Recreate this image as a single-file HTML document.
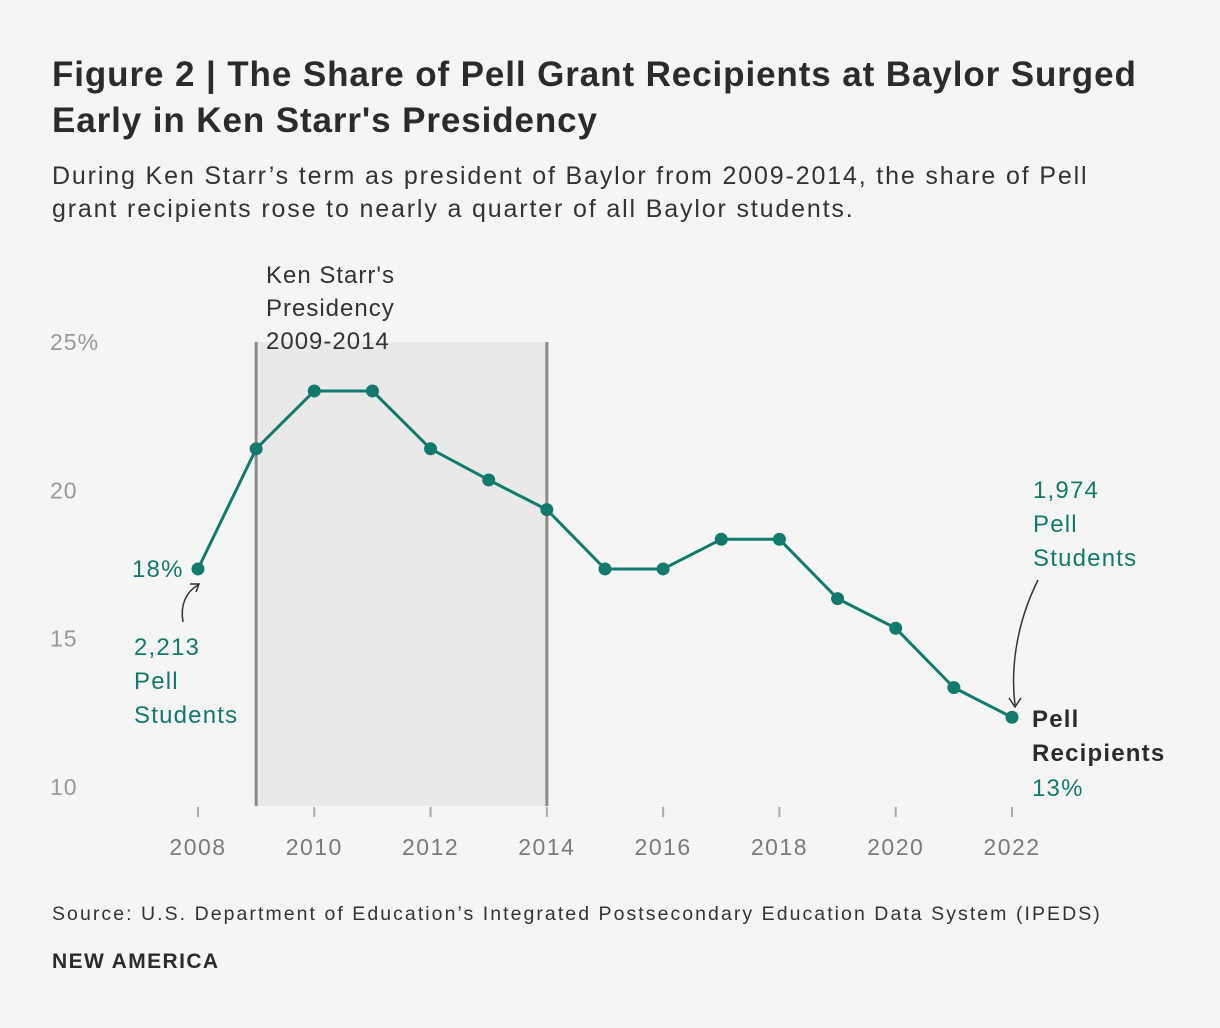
<!DOCTYPE html>
<html><head><meta charset="utf-8"><style>
body{margin:0;background:#f5f5f5;font-family:"Liberation Sans",sans-serif;}
#wrap{position:relative;width:1220px;height:1028px;background:#f5f5f5;overflow:hidden}
h1{position:absolute;left:52px;top:52px;margin:0;font-size:35px;line-height:46px;font-weight:bold;color:#2b2b2b;letter-spacing:0.9px;white-space:nowrap}
.sub{position:absolute;left:52px;top:160px;font-size:25px;line-height:33px;color:#333;margin:0;letter-spacing:1.85px;white-space:nowrap}
.src{position:absolute;left:52px;top:903px;font-size:19.5px;color:#333;letter-spacing:2.05px;white-space:nowrap}
.brand{position:absolute;left:52px;top:950px;font-size:21px;font-weight:bold;color:#2b2b2b;letter-spacing:1.4px}
svg{position:absolute;left:0;top:0}
</style></head><body>
<div id="wrap">
<h1>Figure 2 | The Share of Pell Grant Recipients at Baylor Surged<br>Early in Ken Starr's Presidency</h1>
<p class="sub">During Ken Starr’s term as president of Baylor from 2009-2014, the share of Pell<br>grant recipients rose to nearly a quarter of all Baylor students.</p>
<svg id="chart" width="1220" height="1028"></svg>
<div class="src">Source: U.S. Department of Education’s Integrated Postsecondary Education Data System (IPEDS)</div>
<div class="brand">NEW AMERICA</div>
</div>
<script>
const years=[2008,2009,2010,2011,2012,2013,2014,2015,2016,2017,2018,2019,2020,2021,2022];
const values=[17.35,21.4,23.35,23.35,21.4,20.35,19.35,17.35,17.35,18.35,18.35,16.35,15.35,13.35,12.35];
const yTicks=[10,15,20,25];
const yTickLabels=["10","15","20","25%"];
const xTicks=[2008,2010,2012,2014,2016,2018,2020,2022];
const band=[2009,2014];
const NS="http://www.w3.org/2000/svg";
const svg=document.getElementById('chart');
const x=v=>198+(v-2008)*(1012-198)/14;
const y=v=>787-(v-10)*(445/15);
function mk(t,a,txt){const e=document.createElementNS(NS,t);for(const k in a)e.setAttribute(k,a[k]);if(txt!=null)e.textContent=txt;svg.appendChild(e);return e;}
let r=mk('rect',{x:x(band[0]),y:y(25),width:x(band[1])-x(band[0]),height:806-y(25),fill:'#e9e9e9'});


band.forEach(b=>{const l=mk('line',{x1:x(b),x2:x(b),y1:y(25),y2:806,stroke:'#8a8a8a','stroke-width':3});

});
const ann=mk('text',{x:266,y:283,'font-size':24,fill:'#333','letter-spacing':1});


["Ken Starr's","Presidency","2009-2014"].forEach((s,i)=>{const t=document.createElementNS(NS,'tspan');t.setAttribute('x',266);t.setAttribute('dy',i?33:0);t.textContent=s;ann.appendChild(t);});
yTicks.forEach((v,i)=>{const t=mk('text',{x:50,y:y(v)+8,'font-size':23,fill:'#999','letter-spacing':1},yTickLabels[i]);

});
xTicks.forEach(v=>{const l=mk('line',{x1:x(v),x2:x(v),y1:807,y2:817,stroke:'#aaa','stroke-width':2});


const t=mk('text',{x:x(v),y:855,'font-size':23,fill:'#7a7a7a','text-anchor':'middle','letter-spacing':1.5},v);

});
const p=mk('polyline',{points:years.map((yr,i)=>x(yr)+','+y(values[i])).join(' '),fill:'none',stroke:'#127a6c','stroke-width':3,'stroke-linejoin':'round'});


years.forEach((yr,i)=>{const c=mk('circle',{cx:x(yr),cy:y(values[i]),r:6.5,fill:'#127a6c'});

});
function lbl(xx,yy,lines,name,bold,color){const t=mk('text',{x:xx,y:yy,'font-size':24,fill:color||'#127a6c','font-weight':bold?'bold':'normal','letter-spacing':1.2});


lines.forEach((s,i)=>{const ts=document.createElementNS(NS,'tspan');ts.setAttribute('x',xx);ts.setAttribute('dy',i?34:0);ts.textContent=s;t.appendChild(ts);});}
lbl(132,577,["18%"],'start-value-label');
lbl(134,655,["2,213","Pell","Students"],'start-count-label');
lbl(1033,498,["1,974","Pell","Students"],'end-count-label');
lbl(1032,727,["Pell","Recipients"],'series-label',true,'#2b2b2b');
lbl(1032,796,["13%"],'end-value-label');
const a1=mk('path',{d:'M183,622 C180,605 186,592 198,585 M190,584 L199,584 L196,592',fill:'none',stroke:'#333','stroke-width':1.5});


const a2=mk('path',{d:'M1038,580 C1018,620 1010,665 1015,705 M1009,698 L1015,707 L1021,698',fill:'none',stroke:'#333','stroke-width':1.5});


</script>
</body></html>
